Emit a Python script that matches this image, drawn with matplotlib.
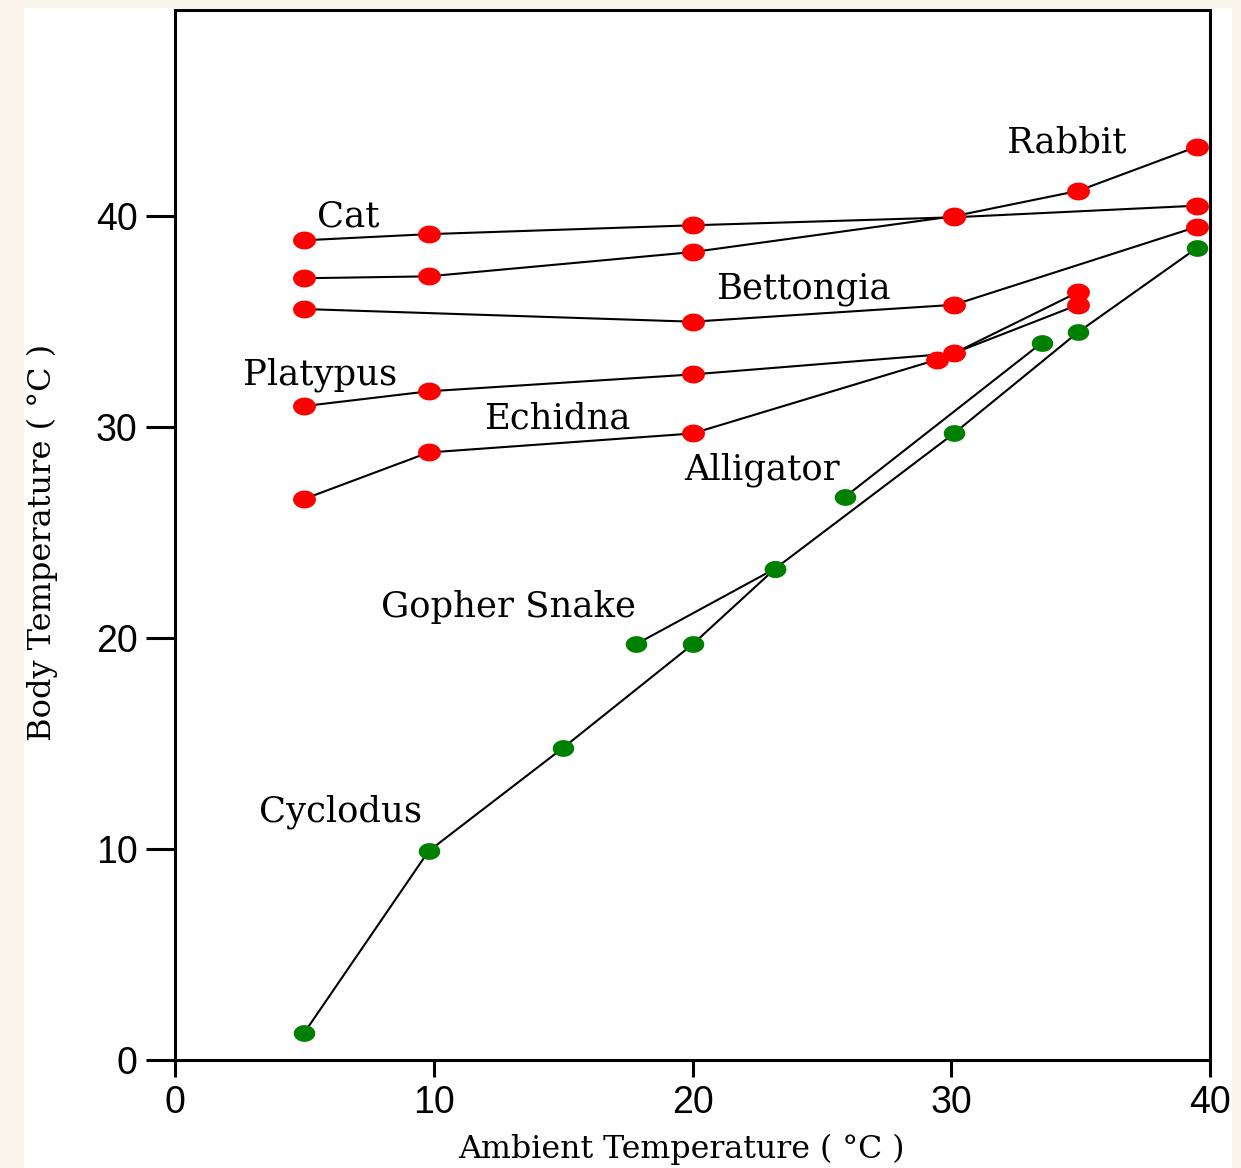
import numpy as np
import matplotlib
matplotlib.use("Agg")
import matplotlib.pyplot as plt
from matplotlib.path import Path
from matplotlib.patches import Rectangle

# ---------------- data ----------------
cat_x = [5, 9.8, 20, 30.1, 39.5]
cat_y = [38.86, 39.15, 39.57, 39.95, 40.5]

rabbit_x = [5, 9.8, 20, 30.1, 34.9, 39.5]
rabbit_y = [37.06, 37.15, 38.3, 40.0, 41.2, 43.3]

bettongia_x = [5, 20, 30.1, 39.5]
bettongia_y = [35.6, 35.0, 35.8, 39.5]

platypus_x = [5, 9.8, 20, 30.1, 34.9]
platypus_y = [31.0, 31.7, 32.5, 33.5, 36.4]

echidna_x = [5, 9.8, 20, 29.45, 34.9]
echidna_y = [26.6, 28.8, 29.7, 33.2, 35.8]

cyclodus_x = [5, 9.8, 15, 20, 23.2, 30.1, 34.9, 39.5]
cyclodus_y = [1.3, 9.9, 14.8, 19.7, 23.3, 29.7, 34.5, 38.5]

gopher_x = [17.8, 23.2]
gopher_y = [19.7, 23.3]

alligator_x = [25.9, 33.5]
alligator_y = [26.7, 34.0]

mammals = [(cat_x, cat_y), (rabbit_x, rabbit_y), (bettongia_x, bettongia_y),
           (platypus_x, platypus_y), (echidna_x, echidna_y)]
reptiles = [(cyclodus_x, cyclodus_y), (gopher_x, gopher_y),
            (alligator_x, alligator_y)]

labels = ["Cat", "Rabbit", "Bettongia", "Platypus", "Echidna",
          "Alligator", "Gopher Snake", "Cyclodus"]
label_x = [5.5, 32.15, 20.9, 2.63, 11.94, 19.7, 7.96, 3.25]
label_y = [39.5, 43.0, 36.1, 32.0, 29.95, 27.5, 21.0, 11.3]

x_ticks = [0, 10, 20, 30, 40]
y_ticks = [0, 10, 20, 30, 40]

# ---------------- figure ----------------
W, H = 1241, 1168
fig = plt.figure(figsize=(W / 100, H / 100), dpi=100)
fig.patch.set_facecolor("#f9f5ea")
fig.patches.append(Rectangle((24 / W, 0), (1232 - 24) / W, 1 - 8 / H,
                             transform=fig.transFigure, facecolor="white",
                             edgecolor="none", zorder=-10))

ax = fig.add_axes([175 / W, 1 - 1060 / H, (1210 - 175) / W, (1060 - 9.5) / H])
ax.set_facecolor("white")
ax.set_xlim(0, 40)
ax.set_ylim(0, 49.8)

# elliptical marker (wider than tall), like the pixel dots of the original
t = np.linspace(0, 2 * np.pi, 40)
ell = Path(np.column_stack([np.cos(t), 0.78 * np.sin(t)]), closed=True)

for xs, ys in mammals:
    ax.plot(xs, ys, color="black", lw=1.5, zorder=2)
    ax.plot(xs, ys, ls="none", marker=ell, ms=16.5, color="#ff0000",
            mec="none", zorder=3)
for xs, ys in reptiles:
    ax.plot(xs, ys, color="black", lw=1.5, zorder=2)
    ax.plot(xs, ys, ls="none", marker=ell, ms=15.5, color="#008000",
            mec="none", zorder=3)

for txt, lx, ly in zip(labels, label_x, label_y):
    ax.text(lx, ly, txt, family="DejaVu Serif", fontsize=25.5,
            ha="left", va="baseline", color="black")

for s in ax.spines.values():
    s.set_linewidth(2.2)
    s.set_color("black")

ax.set_xticks(x_ticks)
ax.set_yticks(y_ticks)
ax.set_xticklabels([str(v) for v in x_ticks], family="Liberation Sans",
                   fontsize=27)
ax.set_yticklabels([str(v) for v in y_ticks], family="Liberation Sans",
                   fontsize=27)
ax.tick_params(axis="x", direction="out", length=12, width=2.2, pad=6)
ax.tick_params(axis="y", direction="out", length=21, width=2.2, pad=6)

fig.text(681 / W, 1 - 1158 / H, "Ambient Temperature ( \u00b0C )",
         family="DejaVu Serif", fontsize=22.8, ha="center", va="baseline")
fig.text(42 / W, 1 - 542 / H, "Body Temperature ( \u00b0C )",
         family="DejaVu Serif", fontsize=23, ha="center", va="center",
         rotation=90)

fig.savefig("out.png", dpi=100, facecolor=fig.get_facecolor())
